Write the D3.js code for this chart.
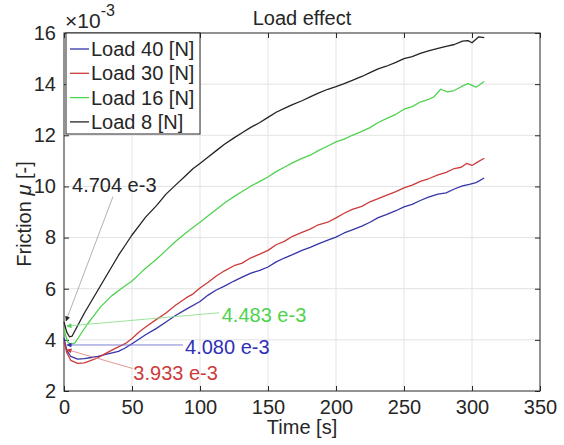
<!DOCTYPE html>
<html>
<head>
<meta charset="utf-8">
<script src="https://cdn.jsdelivr.net/npm/d3@7"></script>
<style>
  body { margin: 0; background: #fff; }
  svg text { font-family: "Liberation Sans", Arial, sans-serif; fill: #262626; }
</style>
</head>
<body>
<svg id="chart" width="564" height="445"></svg>
<script>
// values (friction in units of 1e-3)
var xTicks = [0, 50, 100, 150, 200, 250, 300, 350];
var yTicks = [2, 4, 6, 8, 10, 12, 14, 16];

var load40 = [[0,4.08],[2,3.6],[5,3.35],[10,3.25],[15,3.27],[20,3.31],[25,3.35],[30,3.42],[40,3.55],[45,3.68],
  [50,3.85],[60,4.2],[68,4.45],[75,4.7],[82,4.95],[90,5.2],[100,5.5],[106,5.75],[112,5.95],[118,6.1],[125,6.3],
  [131,6.45],[137,6.6],[144,6.72],[150,6.85],[156,7.05],[162,7.2],[168,7.33],[175,7.5],[181,7.62],[187,7.75],
  [194,7.9],[200,8.02],[206,8.18],[212,8.3],[219,8.45],[225,8.6],[231,8.78],[237,8.9],[244,9.05],[250,9.2],
  [256,9.3],[262,9.45],[268,9.58],[275,9.7],[281,9.75],[287,9.9],[293,10.02],[298,10.08],[303,10.15],[309,10.33]];

var load30 = [[0,3.93],[2,3.5],[5,3.2],[10,3.08],[15,3.1],[20,3.2],[25,3.3],[30,3.45],[37,3.65],[45,3.85],
  [50,4.05],[55,4.3],[60,4.5],[68,4.8],[75,5.05],[82,5.35],[90,5.65],[95,5.8],[100,6.03],[106,6.25],[112,6.5],
  [118,6.7],[125,6.9],[131,7.0],[137,7.2],[144,7.35],[150,7.5],[156,7.72],[162,7.85],[168,8.05],[175,8.2],
  [181,8.33],[187,8.5],[194,8.6],[200,8.77],[206,8.95],[212,9.1],[219,9.22],[225,9.4],[231,9.52],[237,9.65],
  [244,9.8],[250,9.94],[256,10.05],[262,10.2],[268,10.3],[275,10.45],[281,10.55],[287,10.7],[292,10.75],
  [296,10.9],[300,10.82],[304,10.95],[309,11.1]];

var load16 = [[0,4.48],[1,4.2],[3,3.9],[5,3.82],[8,3.88],[12,4.2],[17,4.6],[22,4.95],[27,5.3],[35,5.72],
  [42,6.0],[50,6.3],[55,6.55],[60,6.8],[68,7.15],[75,7.5],[82,7.85],[90,8.2],[95,8.4],[100,8.6],[106,8.85],
  [112,9.1],[118,9.35],[125,9.6],[131,9.8],[137,10.0],[144,10.2],[150,10.37],[156,10.58],[162,10.75],
  [168,10.92],[175,11.1],[181,11.22],[187,11.4],[194,11.58],[200,11.74],[206,11.85],[212,12.0],[219,12.15],
  [225,12.3],[231,12.5],[237,12.65],[244,12.82],[250,13.02],[256,13.12],[262,13.3],[268,13.4],[272,13.5],
  [277,13.8],[282,13.7],[287,13.75],[292,13.9],[297,14.02],[303,13.88],[309,14.1]];

var load8 = [[0,4.7],[2,4.3],[4,4.12],[6,4.15],[10,4.55],[15,5.05],[20,5.5],[25,5.95],[30,6.4],[35,6.85],
  [40,7.3],[45,7.7],[50,8.1],[55,8.45],[60,8.8],[68,9.25],[75,9.7],[82,10.05],[90,10.45],[95,10.7],[100,10.9],
  [106,11.15],[112,11.4],[118,11.65],[125,11.9],[131,12.1],[137,12.3],[144,12.5],[150,12.7],[156,12.9],
  [162,13.05],[168,13.2],[175,13.35],[181,13.5],[187,13.65],[194,13.8],[200,13.9],[206,14.02],[212,14.15],
  [219,14.3],[225,14.45],[231,14.6],[237,14.7],[244,14.85],[250,15.0],[256,15.08],[262,15.2],[268,15.3],
  [275,15.4],[281,15.48],[287,15.55],[293,15.68],[297,15.7],[300,15.62],[305,15.85],[309,15.82]];

var seriesNames = ['Load 40 [N]', 'Load 30 [N]', 'Load 16 [N]', 'Load 8 [N]'];
var seriesColors = ['#3535a8', '#cc3b3b', '#4fd24f', '#232323'];
var seriesValues = [load40, load30, load16, load8];

// annotations: label, text anchor (t, mu), arrow tail, arrow head
var noteLabels = ['4.704 e-3', '4.483 e-3', '4.080 e-3', '3.933 e-3'];
var noteColors = ['#262626', '#4fd24f', '#2f2fb8', '#cc3b3b'];
var noteLineColors = ['#a8a8a8', '#8fe08f', '#7070d0', '#e08a8a'];
var noteText = [[5.9, 10.05], [116, 4.97], [89, 3.72], [51, 2.7]];
var noteTail = [[36, 9.6], [114, 5.06], [87.5, 3.8], [50.5, 2.88]];
var noteHead = [[1.5, 4.74], [2.2, 4.54], [2.2, 3.8], [2.2, 3.62]];

var svg = d3.select('#chart');
// plot box in pixels (don't call these top/left, window.top is read-only)
var pL = 64, pR = 540, pT = 33, pB = 391;

var x = d3.scaleLinear().domain([0, 350]).range([pL, pR]);
var y = d3.scaleLinear().domain([2, 16]).range([pB, pT]);

// grid
var grid = svg.append('g').attr('stroke', '#e3e3e3').attr('stroke-width', 1);
grid.selectAll('line.gx').data(xTicks.slice(1, -1)).enter().append('line')
  .attr('x1', function(d) { return x(d); }).attr('x2', function(d) { return x(d); })
  .attr('y1', pT).attr('y2', pB);
grid.selectAll('line.gy').data(yTicks.slice(1, -1)).enter().append('line')
  .attr('y1', function(d) { return y(d); }).attr('y2', function(d) { return y(d); })
  .attr('x1', pL).attr('x2', pR);

// axes, ticks pointing inwards, box on
var axisStyle = function(g) {
  g.select('.domain').remove();
  g.selectAll('line').attr('stroke', '#262626');
  g.selectAll('text').attr('font-size', 20).attr('fill', '#262626')
    .style('font-family', '"Liberation Sans", Arial, sans-serif');
};
svg.append('g').attr('transform', 'translate(0,' + pB + ')')
  .call(d3.axisBottom(x).tickValues(xTicks).tickSize(-5).tickPadding(9))
  .call(axisStyle);
svg.append('g').attr('transform', 'translate(0,' + pT + ')')
  .call(d3.axisTop(x).tickValues(xTicks).tickSize(-5).tickFormat(''))
  .call(axisStyle);
svg.append('g').attr('transform', 'translate(' + pL + ',0)')
  .call(d3.axisLeft(y).tickValues(yTicks).tickSize(-5).tickPadding(8))
  .call(axisStyle);
svg.append('g').attr('transform', 'translate(' + pR + ',0)')
  .call(d3.axisRight(y).tickValues(yTicks).tickSize(-5).tickFormat(''))
  .call(axisStyle);
svg.append('rect').attr('x', pL).attr('y', pT)
  .attr('width', pR - pL).attr('height', pB - pT)
  .attr('fill', 'none').attr('stroke', '#262626').attr('stroke-width', 1);

// series
var line = d3.line()
  .x(function(d) { return x(d[0]); })
  .y(function(d) { return y(d[1]); });
svg.append('g').selectAll('path').data(seriesValues).enter().append('path')
  .attr('d', line)
  .attr('fill', 'none')
  .attr('stroke', function(d, i) { return seriesColors[i]; })
  .attr('stroke-width', 1.3)
  .attr('stroke-linejoin', 'round');

// arrow heads
var defs = svg.append('defs');
noteColors.forEach(function(c, i) {
  defs.append('marker').attr('id', 'head' + i)
    .attr('viewBox', '0 0 10 10').attr('refX', 9).attr('refY', 5)
    .attr('markerWidth', 6).attr('markerHeight', 5)
    .attr('markerUnits', 'userSpaceOnUse')
    .attr('orient', 'auto')
    .append('path').attr('d', 'M0,0L10,5L0,10z').attr('fill', c);
});

var notes = svg.append('g');
noteLabels.forEach(function(lbl, i) {
  notes.append('line')
    .attr('x1', x(noteTail[i][0])).attr('y1', y(noteTail[i][1]))
    .attr('x2', x(noteHead[i][0])).attr('y2', y(noteHead[i][1]))
    .attr('stroke', noteLineColors[i]).attr('stroke-width', 0.9)
    .attr('marker-end', 'url(#head' + i + ')');
  notes.append('text')
    .attr('x', x(noteText[i][0])).attr('y', y(noteText[i][1]))
    .attr('dy', '0.35em')
    .attr('font-size', 20)
    .style('fill', noteColors[i])
    .text(lbl);
});

// legend
var legend = svg.append('g');
legend.append('rect').attr('x', pL + 2).attr('y', pT).attr('width', 134).attr('height', 101)
  .attr('fill', '#fff').attr('stroke', '#262626').attr('stroke-width', 1);
seriesNames.forEach(function(name, i) {
  var ly = pT + 16 + i * 24.3;
  legend.append('line').attr('x1', pL + 6).attr('x2', pL + 25)
    .attr('y1', ly).attr('y2', ly)
    .attr('stroke', seriesColors[i]).attr('stroke-width', 1.3);
  legend.append('text').attr('x', pL + 27).attr('y', ly).attr('dy', '0.35em')
    .attr('font-size', 20).text(name);
});

// titles and labels
svg.append('text').attr('x', (pL + pR) / 2).attr('y', 25)
  .attr('text-anchor', 'middle').attr('font-size', 20).text('Load effect');
svg.append('text').attr('x', (pL + pR) / 2).attr('y', 434)
  .attr('text-anchor', 'middle').attr('font-size', 20).text('Time [s]');
var ylab = svg.append('text')
  .attr('transform', 'translate(31,' + ((pT + pB) / 2 + 2) + ') rotate(-90)')
  .attr('text-anchor', 'middle').attr('font-size', 20);
ylab.append('tspan').text('Friction ');
ylab.append('tspan').attr('font-style', 'italic').text('\u03bc');
ylab.append('tspan').text(' [-]');

var mult = svg.append('text').attr('x', pL + 1).attr('y', 28).attr('font-size', 21);
mult.append('tspan').text('\u00d710');
mult.append('tspan').attr('dy', -12).attr('font-size', 16).text('-3');
</script>
</body>
</html>
